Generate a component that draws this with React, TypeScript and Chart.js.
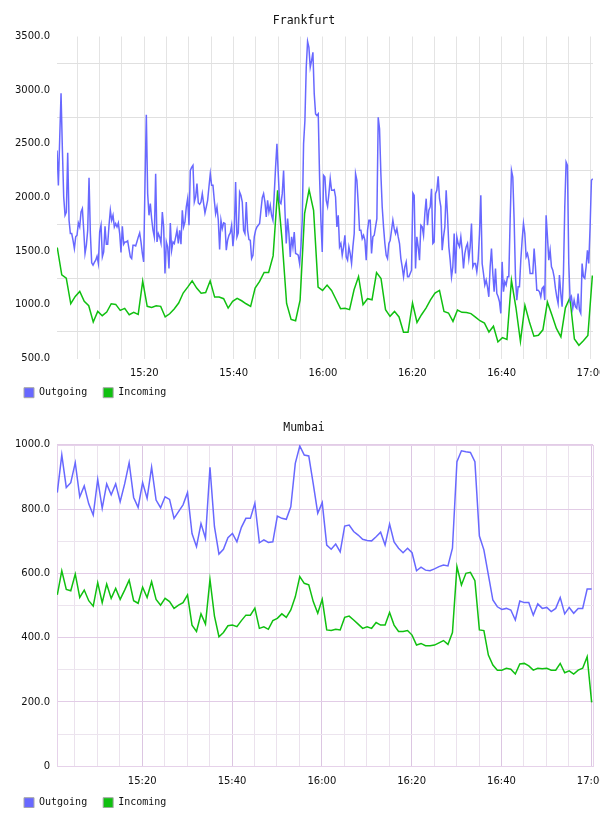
import { useEffect, useRef } from 'react';
import { Chart, registerables } from 'chart.js';

Chart.register(...registerables);

// Times are seconds after 15:00.
const FRA_OUT_START = 28;
const FRA_OUT_STEP = 17.9;
const frankfurtOutgoing = [
  2438, 2113, 2550, 2971, 2450, 2005, 1834, 1865, 2417, 1788,
  1664, 1664, 1600, 1524, 1633, 1648, 1763, 1726, 1865, 1896,
  1700, 1478, 1555, 1695, 2184, 1664, 1391, 1369, 1395, 1416,
  1453, 1385, 1679, 1741, 1447, 1493, 1732, 1565, 1565, 1741,
  1881, 1788, 1834, 1726, 1757, 1726, 1763, 1664, 1487, 1732,
  1565, 1586, 1586, 1596, 1520, 1447, 1431, 1555, 1555, 1549,
  1590, 1633, 1670, 1586, 1480, 1400, 2129, 2770, 2036, 1834,
  1943, 1800, 1695, 1633, 2221, 1586, 1664, 1633, 1577, 1865,
  1726, 1292, 1586, 1540, 1339, 1763, 1509, 1586, 1571, 1630,
  1695, 1571, 1695, 1565, 1881, 1726, 1772, 1912, 1989, 1741,
  2252,
  2280, 2299, 1958, 2005, 2129, 1949, 1936, 1958, 2036, 1943,
  1856, 1912, 1974, 2100, 2221, 2113, 2113, 1974, 1850, 1912,
  1788, 1515, 1788, 1710, 1763, 1757, 1509, 1602, 1648, 1670,
  1741, 1546, 1679, 2144, 1633, 1670, 2051, 2020, 1958, 1695,
  1664, 1958, 1695, 1608, 1602, 1431, 1462, 1633, 1695, 1726,
  1741, 1757, 1881, 1998, 2036, 1958, 1819, 1974, 1865, 1927,
  1834, 1788, 2036, 2283, 2500, 2221, 1958, 1943, 2036, 2252,
  1881, 1571, 1803, 1664, 1447, 1633, 1540, 1679, 1478, 1472,
  1462, 1385, 1540, 1788, 2500, 2717, 3213, 3454, 3399, 3213,
  3275, 3352, 2965, 2779, 2764, 2779, 2190, 1788, 1493, 2206,
  2190,
  1974, 1918, 2036, 2175, 2067, 2067, 2073, 2005, 1726, 1834,
  1540, 1571, 1462, 1540, 1648, 1447, 1416, 1540, 1478, 1385,
  1540, 1664, 2221, 2160, 1943, 1695, 1695, 1617, 1648, 1602,
  1416, 1695, 1788, 1788, 1478, 1633, 1648, 1726, 1803, 2748,
  2640, 2221, 1912, 1726, 1571, 1462, 1431, 1571, 1602, 1695,
  1788, 1710, 1664, 1710, 1633, 1571, 1431, 1354, 1261, 1354,
  1400, 1261, 1261, 1292, 1323, 2042, 2020, 1339, 1633, 1540,
  1416, 1741, 1726, 1648, 1850, 1989, 1741, 1881, 1912, 2082,
  1571, 1586, 2036, 2067, 2197, 1989, 1912, 1509, 1633, 1726,
  2067, 1834, 1540, 1416, 1261, 1354, 1664, 1292, 1633, 1571,
  1540, 1633, 1509, 1339, 1478, 1540, 1571, 1431, 1540, 1757,
  1354, 1385, 1385, 1308, 1416, 1664, 2020, 1385, 1292, 1184,
  1230, 1168, 1075, 1354, 1524, 1292, 1122, 1339, 1106, 1075,
  1029, 920, 1400, 1122, 1215, 1184, 1261, 1261, 1788, 2252,
  2190, 1788, 1261, 1044, 1168, 1168, 1416, 1602, 1757, 1664,
  1447, 1478, 1416, 1292, 1292, 1292, 1524, 1354, 1137, 1137,
  1122, 1075, 1153, 1168, 1044, 1834, 1633, 1416, 1509, 1354,
  1323, 1261, 1153, 1075, 1013, 1277, 1106, 982, 1292, 1912,
  2330, 2299, 1385, 1044, 1075, 967, 1044, 982, 967, 1106,
  951, 920, 1385, 1261, 1246, 1354, 1509, 1385, 1726, 2160,
  2175,
];

const FRA_IN_START = 31;
const FRA_IN_STEP = 60.4;
const frankfurtIncoming = [
  1534, 1280, 1249, 1010, 1078, 1125, 1032, 992, 840, 939,
  899, 933, 1010, 1004, 948, 967, 908, 930, 911, 1221,
  986, 976, 992, 986, 887, 917, 961, 1017, 1110, 1165,
  1224, 1156, 1109, 1115, 1224, 1072, 1072, 1057, 970, 1032,
  1060, 1038, 1010, 985, 1156, 1218, 1301, 1301, 1456, 2067,
  1600, 1013, 864, 852, 1044, 1850, 2073, 1881, 1165, 1134,
  1184, 1134, 1050, 964, 967, 955, 1140, 1264, 1001, 1057,
  1047, 1301, 1245, 955, 893, 939, 887, 744, 744, 1017,
  836, 908, 970, 1047, 1110, 1134, 939, 924, 846, 952,
  930, 928, 918, 886, 852, 830, 747, 801, 654, 694,
  677, 1228, 975, 660, 995, 840, 708, 716, 767, 1025,
  905, 780, 702, 972, 1066, 682, 623, 666, 715, 1273,
];

const MUM_START = 65;
const MUM_STEP = 60;
const mumbaiOutgoing = [
  851, 968, 867, 882, 944, 838, 872, 816, 781, 892,
  802, 878, 844, 878, 823, 878, 944, 836, 805, 882,
  833, 930, 828, 804, 838, 830, 771, 792, 813, 851,
  724, 683, 755, 709, 930, 745, 660, 675, 711, 724,
  698, 743, 771, 771, 818, 695, 704, 696, 698, 778,
  771, 768, 807, 942, 996, 968, 965, 878, 787, 820,
  688, 675, 691, 667, 747, 750, 730, 719, 706, 702,
  701, 714, 728, 688, 753, 698, 678, 664, 678, 664,
  608, 619, 610, 608, 614, 621, 626, 623, 678, 947,
  981, 978, 976, 947, 716, 673, 595, 517, 496, 488,
  491, 486, 455, 514, 509, 509, 470, 505, 491, 494,
  481, 491, 525, 474, 494, 476, 491, 491, 551, 551,
];
const mumbaiIncoming = [
  533, 608, 550, 546, 598, 525, 548, 515, 498, 571,
  509, 567, 522, 553, 519, 548, 579, 515, 507, 557,
  525, 574, 519, 501, 522, 512, 491, 501, 509, 533,
  439, 419, 474, 442, 581, 467, 403, 416, 437, 439,
  434, 453, 470, 470, 492, 429, 434, 426, 453, 460,
  474, 463, 486, 527, 590, 569, 564, 512, 476, 519,
  424, 422, 426, 424, 463, 467, 455, 442, 429, 434,
  429, 447, 439, 439, 478, 439, 419, 419, 422, 408,
  377, 382, 375, 375, 377, 384, 391, 379, 416, 621,
  564, 600, 603, 577, 424, 422, 346, 315, 299, 299,
  305, 302, 287, 318, 320, 312, 299, 305, 303, 305,
  299, 299, 320, 291, 297, 287, 299, 305, 341, 199,
];

const SERIES_NAMES = ['Outgoing', 'Incoming'];
const OUT_COLOR = '#6868ff';
const IN_COLOR = '#10c010';

// Grid every 5 minutes, clock labels every 20 minutes.
const GRID_STEP_SEC = 300;
const LABEL_STEP_SEC = 1200;

const toPoints = (start: number, step: number, values: number[]) =>
  values.map((v, i) => ({ x: start + i * step, y: v }));

const clockLabel = (sec: number) => {
  const m = Math.round(sec / 60);
  const h = 15 + Math.floor(m / 60);
  return `${h}:${String(m % 60).padStart(2, '0')}`;
};

const timeTicks = (min: number, max: number) => {
  const out: { value: number }[] = [];
  for (let t = Math.ceil(min / GRID_STEP_SEC) * GRID_STEP_SEC; t <= max; t += GRID_STEP_SEC) {
    out.push({ value: t });
  }
  return out;
};

// Outline round the plot area (used by the Mumbai panel).
const plotFrame = {
  id: 'plotFrame',
  beforeDatasetsDraw(chart: any, _args: any, opts: any) {
    if (!opts || !opts.color) return;
    const { left, top, right, bottom } = chart.chartArea;
    const ctx = chart.ctx;
    ctx.save();
    ctx.strokeStyle = opts.color;
    ctx.lineWidth = 1;
    ctx.strokeRect(
      Math.round(left) + 0.5,
      Math.round(top) + 0.5,
      Math.round(right) - Math.round(left),
      Math.round(bottom) - Math.round(top)
    );
    ctx.restore();
  },
};

type PanelSpec = {
  title: string;
  outgoing: { x: number; y: number }[];
  incoming: { x: number; y: number }[];
  xMin: number;
  xMax: number;
  yMin: number;
  yMax: number;
  yStep: number;
  yLabel: (v: number) => string;
  xGrid: (v: number) => string;
  yGrid: (v: number) => string;
  frame: string | null;
  titleTop: number;
  titleBottom: number;
  xAxisHeight: number;
  xPad: number;
  padBottom: number;
};

const TICK_FONT = { family: 'DejaVu Sans', size: 10 };
const MONO_FONT = { family: 'DejaVu Sans Mono', size: 10 };

function buildChart(canvas: HTMLCanvasElement, p: PanelSpec) {
  return new Chart(canvas, {
    type: 'line',
    data: {
      datasets: [
        {
          label: SERIES_NAMES[0],
          data: p.outgoing,
          borderColor: OUT_COLOR,
          backgroundColor: OUT_COLOR,
          borderWidth: 1.5,
          pointRadius: 0,
          tension: 0,
          fill: false,
        },
        {
          label: SERIES_NAMES[1],
          data: p.incoming,
          borderColor: IN_COLOR,
          backgroundColor: IN_COLOR,
          borderWidth: 1.5,
          pointRadius: 0,
          tension: 0,
          fill: false,
        },
      ],
    },
    options: {
      responsive: false,
      animation: false,
      events: [],
      layout: { padding: { left: 0, right: 0, top: 0, bottom: p.padBottom } },
      plugins: {
        title: {
          display: true,
          text: p.title,
          color: '#111',
          font: { family: 'DejaVu Sans Mono', size: 11.5, weight: 'normal' },
          padding: { top: p.titleTop, bottom: p.titleBottom },
        },
        legend: {
          position: 'bottom',
          align: 'start',
          labels: {
            boxWidth: 10,
            boxHeight: 10,
            padding: 16,
            color: '#111',
            font: MONO_FONT,
            generateLabels: (chart: any) =>
              chart.data.datasets.map((ds: any, i: number) => ({
                text: ds.label,
                fillStyle: ds.borderColor,
                strokeStyle: '#a8a8a8',
                lineWidth: 1,
                hidden: false,
                datasetIndex: i,
                fontColor: '#111',
              })),
          },
        },
        tooltip: { enabled: false },
        plotFrame: { color: p.frame },
      } as any,
      scales: {
        x: {
          type: 'linear',
          min: p.xMin,
          max: p.xMax,
          border: { display: false },
          grid: {
            drawTicks: false,
            lineWidth: 1,
            color: (ctx: any) => p.xGrid(ctx.tick ? ctx.tick.value : 0),
          },
          ticks: {
            autoSkip: false,
            maxRotation: 0,
            minRotation: 0,
            padding: p.xPad,
            color: '#111',
            font: TICK_FONT,
            callback: (v: any) =>
              Number(v) % LABEL_STEP_SEC === 0 ? clockLabel(Number(v)) : '',
          },
          afterBuildTicks: (s: any) => {
            s.ticks = timeTicks(p.xMin, p.xMax);
          },
          afterFit: (s: any) => {
            s.height = p.xAxisHeight;
            s.paddingLeft = 0;
            s.paddingRight = 7;
            // the time labels hang below this slim axis box; don't clip them to it
            s._computeLabelArea = () => undefined;
          },
        },
        y: {
          type: 'linear',
          min: p.yMin,
          max: p.yMax,
          border: { display: false },
          grid: {
            drawTicks: false,
            lineWidth: 1,
            color: (ctx: any) => p.yGrid(ctx.tick ? ctx.tick.value : 0),
          },
          ticks: {
            stepSize: p.yStep,
            autoSkip: false,
            padding: 7,
            color: '#111',
            font: TICK_FONT,
            callback: (v: any) => p.yLabel(Number(v)),
          },
          afterFit: (s: any) => {
            s.width = 49;
            s.paddingTop = 0;
            s.paddingBottom = 0;
          },
        },
      } as any,
    },
    plugins: [plotFrame],
  } as any);
}

const frankfurtPanel: PanelSpec = {
  title: 'Frankfurt',
  outgoing: toPoints(FRA_OUT_START, FRA_OUT_STEP, frankfurtOutgoing),
  incoming: toPoints(FRA_IN_START, FRA_IN_STEP, frankfurtIncoming),
  xMin: 27.4,
  xMax: 7227,
  yMin: 500,
  yMax: 3500,
  yStep: 250,
  yLabel: (v) => (v % 500 === 0 ? v.toFixed(1) : ''),
  xGrid: () => '#e4e4e4',
  yGrid: (v) => (v % 500 === 0 ? 'rgba(0,0,0,0)' : '#e0e0e0'),
  frame: null,
  titleTop: 5.8,
  titleBottom: 8.9,
  xAxisHeight: 13.2,
  xPad: 8.5,
  padBottom: 8.3,
};

const mumbaiPanel: PanelSpec = {
  title: 'Mumbai',
  outgoing: toPoints(MUM_START, MUM_STEP, mumbaiOutgoing),
  incoming: toPoints(MUM_START, MUM_STEP, mumbaiIncoming),
  xMin: 61,
  xMax: 7223,
  yMin: 0,
  yMax: 1000,
  yStep: 100,
  yLabel: (v) => (v === 0 ? '0' : v % 200 === 0 ? v.toFixed(1) : ''),
  xGrid: (v) => (v % LABEL_STEP_SEC === 0 ? '#dcc6e2' : '#ebe2ed'),
  yGrid: (v) => (v % 200 === 0 ? '#e2cce6' : '#ece4ee'),
  frame: '#e6d2ea',
  titleTop: 5.4,
  titleBottom: 9.5,
  xAxisHeight: 15.4,
  xPad: 9.4,
  padBottom: 6.3,
};

function Panel({ spec, clip }: { spec: PanelSpec; clip?: number }) {
  const ref = useRef<HTMLCanvasElement | null>(null);
  useEffect(() => {
    if (!ref.current) return;
    const chart = buildChart(ref.current, spec);
    return () => chart.destroy();
  }, [spec]);
  return (
    <div style={{ height: clip ?? 408, overflow: 'hidden' }}>
      <canvas ref={ref} width={592} height={408} style={{ display: 'block' }} />
    </div>
  );
}

export default function App() {
  return (
    <div style={{ width: 592, background: '#fff' }}>
      <Panel spec={frankfurtPanel} />
      <Panel spec={mumbaiPanel} clip={392} />
    </div>
  );
}
